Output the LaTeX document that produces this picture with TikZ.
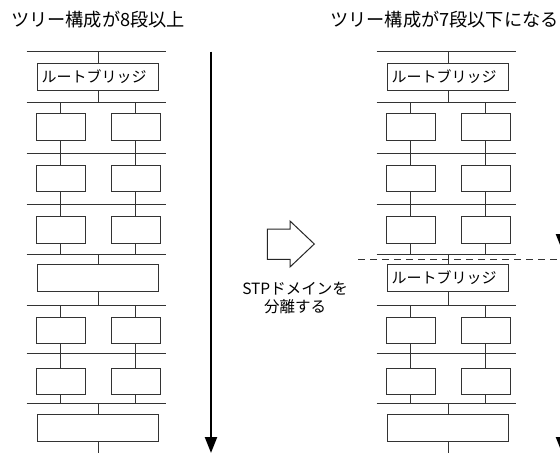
\documentclass[tikz,border=0pt]{standalone}
\usepackage{fontspec}
\newfontfamily\jp{Noto Sans CJK JP}
\usepackage{tikz}
\usetikzlibrary{arrows.meta,calc,positioning}
\tikzset{
  bus/.style={draw=black!80, line width=1pt},
  sw/.style={bus, minimum width=49pt, minimum height=26.5pt, inner sep=0pt},
  widesw/.style={bus, minimum height=27pt, text width=112.6pt, inner xsep=4pt, inner ysep=0pt, align=left,
    font=\jp\fontsize{15}{17}\selectfont},
  titletxt/.style={anchor=west, inner sep=0pt, font=\jp\fontsize{18.2}{21}\selectfont},
  sepbox/.style={draw=black!85, line width=1pt, fill=white},
  septxt/.style={align=center, inner sep=0pt, font=\jp\fontsize{15.5}{17.4}\selectfont},
  longarrow/.style={black, line width=2.2pt, -{Triangle[width=12pt,length=16pt]}}
}
\begin{document}
\begin{tikzpicture}[x=1pt,y=-1pt]
\useasboundingbox (0,0) rectangle (560,453);
\node[titletxt] (title8) at (11,19.5) {ツリー構成が8段以上};
\node[titletxt] (title7) at (330,19.5) {ツリー構成が7段以下になる};
\foreach \t/\ox/\lab in {L/0/{},R/350/{ルートブリッジ}}{
  \foreach \k/\y in {0/51,1/102,2/153,3/204,4/254,5/305,6/353,7/403}
    \draw[bus] (\ox+26.7,\y) coordinate (\t bw\k) -- (\ox+166,\y) coordinate (\t be\k);
  \coordinate (\t bw8) at (\ox+26.7,453);
  \node[widesw] (\t w1) at (\ox+98,76.7) {ルートブリッジ};
  \node[widesw] (\t w5) at (\ox+98,277.8) {\lab};
  \node[widesw] (\t w8) at (\ox+98,427.8) {};
  \foreach \r in {1,5,8}{
    \pgfmathtruncatemacro\ra{\r-1}
    \draw[bus] (\t w\r.north) -- (\t w\r.north |- \t bw\ra);
    \draw[bus] (\t w\r.south) -- (\t w\r.south |- \t bw\r);
  }
  \foreach \r/\y in {2/127,3/178.7,4/230,6/330.3,7/381.5}{
    \pgfmathtruncatemacro\ra{\r-1}
    \node[sw] (\t a\r) at (\ox+60.7,\y) {};
    \node[sw] (\t c\r) at (\ox+135.7,\y) {};
    \foreach \n in {a,c}{
      \draw[bus] (\t\n\r.north) -- (\t\n\r.north |- \t bw\ra);
      \draw[bus] (\t\n\r.south) -- (\t\n\r.south |- \t bw\r);
    }
  }
}
\coordinate (arrtop) at (211,51.5);
\coordinate (arrbot) at (211,453);
\draw[longarrow] (arrtop) -- (arrbot);
\draw[longarrow] (562,51.5) coordinate (uptop) -- (562,250) coordinate (upbot);
\draw[longarrow] (562,262) coordinate (lowtop) -- (562,453) coordinate (lowbot);
\draw[bus, line width=1pt, dash pattern=on 7pt off 5pt] (358,259.3) coordinate (cutw) -- (565,259.3) coordinate (cute);
\draw[sepbox] (267.3,229) -- (290,229) -- (290,221) -- (314.3,244) -- (290,267) -- (290,259.3) -- (267.3,259.3) -- cycle;
\node[septxt] (sepnote) at (295,298) {STPドメインを\\分離する};
\end{tikzpicture}
\end{document}
